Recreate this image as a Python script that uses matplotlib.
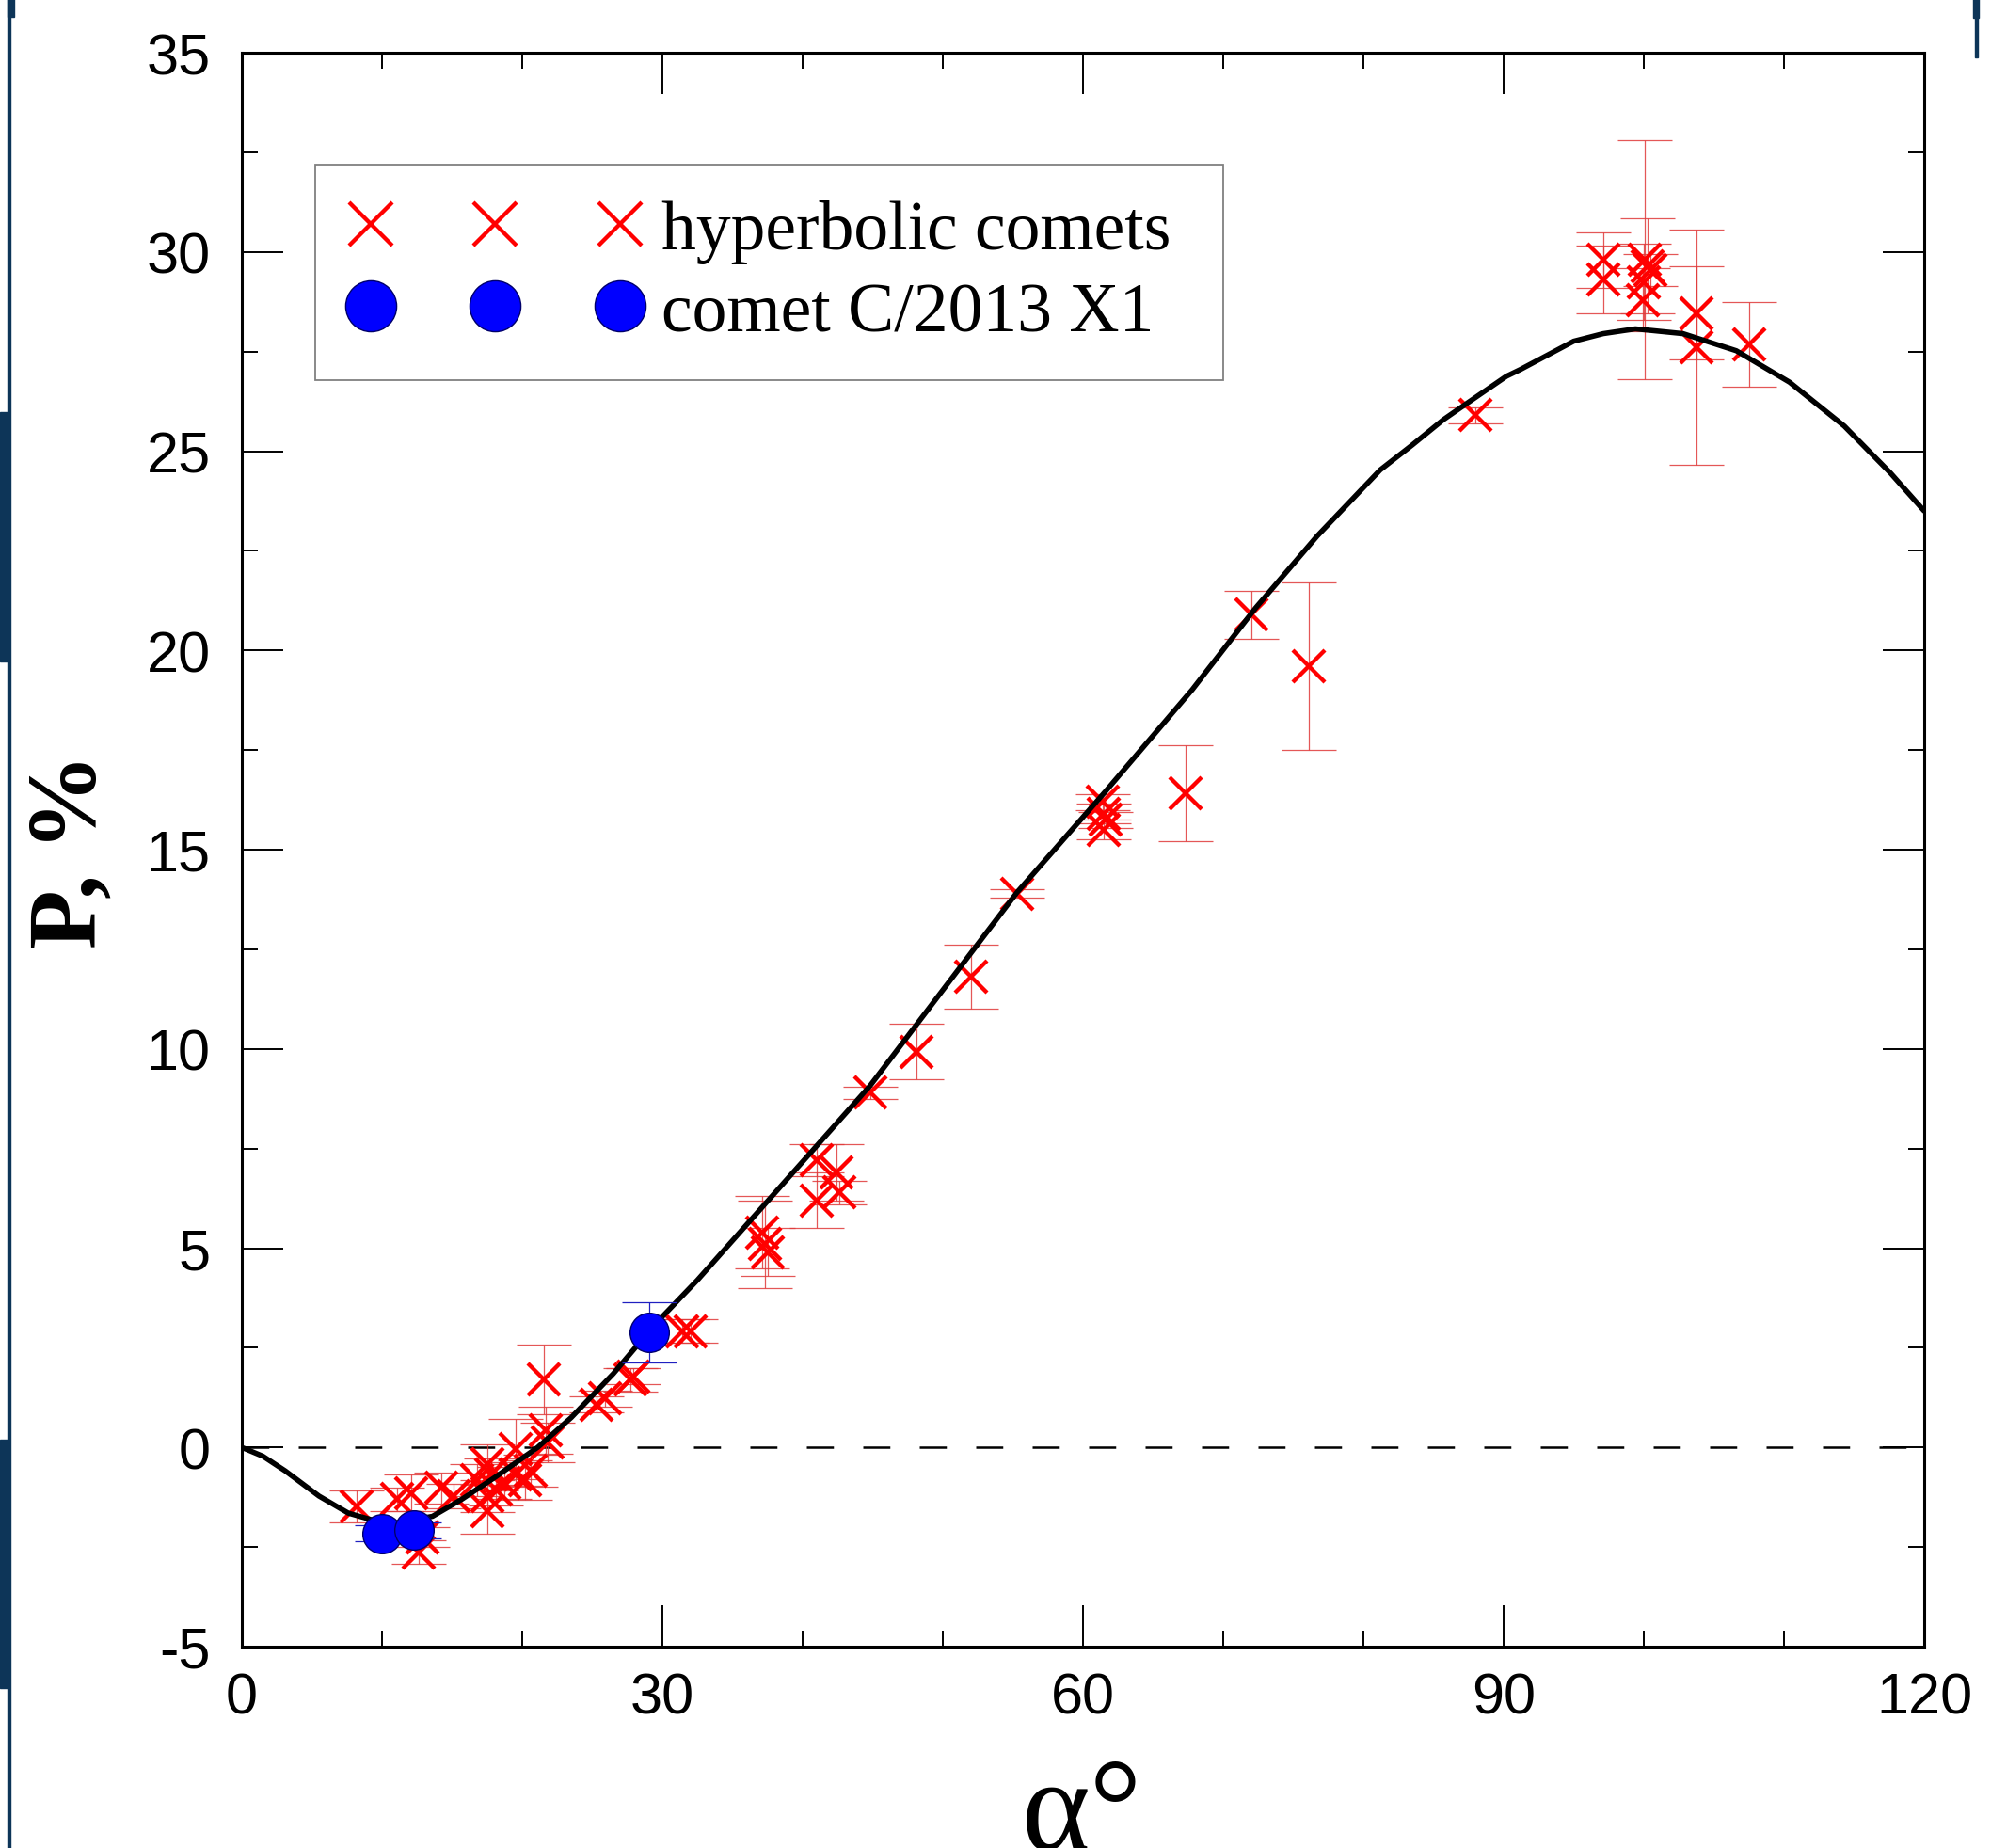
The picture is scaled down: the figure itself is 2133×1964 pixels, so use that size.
import numpy as np
import matplotlib
matplotlib.use('Agg')
import matplotlib.pyplot as plt
from matplotlib.patches import Rectangle
from matplotlib.ticker import MultipleLocator

plt.rcParams['axes.unicode_minus'] = False

# hyperbolic comets: phase angle, polarization, error
alpha_hyp = [8.2, 11.1, 12.1, 12.6, 12.9, 14.2, 15.1, 16.8, 17.5, 17.8, 17.5, 17.5,
             18.1, 18.7, 19.5, 19.5, 20.2, 20.6, 21.55, 21.7, 21.8, 25.3, 25.9,
             27.7, 27.9, 31.4, 32.0, 37.1, 37.3, 37.5, 41.0, 41.0, 42.4, 42.6,
             44.8, 48.1, 52.0, 55.3, 61.4, 61.5, 61.6, 61.5, 67.3, 72.0, 76.1,
             88.0, 97.1, 97.1, 100.1, 100.3, 100.5, 100.0, 99.9, 103.75, 103.75, 107.5]
p_hyp = [-1.49, -1.30, -1.14, -2.63, -2.25, -1.02, -1.22, -0.82, -0.43, -0.67, -1.22, -1.61,
         -1.06, -0.90, -0.04, -0.67, -0.82, -0.59, 1.70, 0.43, 0.12, 1.07, 1.23,
         1.70, 1.78, 2.92, 2.92, 5.4, 5.1, 4.9, 7.2, 6.2, 6.9, 6.4,
         8.9, 9.93, 11.82, 13.9, 16.2, 15.9, 15.75, 15.5, 16.42, 20.9, 19.6,
         25.9, 29.8, 29.3, 29.8, 29.65, 29.55, 29.25, 28.8, 28.47, 27.6, 27.68]
err_hyp = [0.4, 0.3, 0.45, 0.3, 0.25, 0.4, 0.3, 0.4, 0.5, 0.4, 0.4, 0.55,
           0.4, 0.4, 0.75, 0.3, 0.5, 0.4, 0.87, 0.6, 0.5, 0.2, 0.2,
           0.3, 0.2, 0.3, 0.3, 0.9, 1.1, 0.6, 0.4, 0.7, 0.7, 0.3,
           0.15, 0.7, 0.8, 0.1, 0.2, 0.25, 0.2, 0.25, 1.2, 0.6, 2.1,
           0.2, 0.7, 0.85, 3.0, 1.2, 0.4, 0.95, 0.8, 1.17, 2.95, 1.07]

# comet C/2013 X1
alpha_x1 = [10.0, 12.27, 29.05]
p_x1 = [-2.16, -2.08, 2.89]
err_x1 = [0.2, 0.2, 0.76]

# fitted phase curve
alpha_fit = [0, 1.5, 3.1, 5.5, 7.6, 9.4, 11.0, 13.6, 15.7, 18.1, 21.1, 23.5, 26.5, 29.5,
             32.5, 44.8, 55.3, 61.6, 67.8, 72.3, 76.7, 81.2, 83.5,
             85.7, 87.3, 90.2, 91.2, 95.0, 97.1, 99.4, 102.8, 106.6, 110.4, 114.3, 117.6, 120]
p_fit = [0, -0.22, -0.59, -1.22, -1.65, -1.83, -1.9, -1.73, -1.3, -0.74, 0.0, 0.75, 1.85, 3.1,
         4.2, 9.07, 13.93, 16.46, 19.02, 21.06, 22.87, 24.53, 25.16,
         25.79, 26.18, 26.88, 27.05, 27.76, 27.95, 28.07, 27.95, 27.52, 26.73, 25.63, 24.45, 23.5]

W, H = 2133, 1965
fig = plt.figure(figsize=(W / 100, H / 100), dpi=100)
ax = fig.add_axes([257 / W, 1 - 1751 / H, (2045 - 257) / W, (1751 - 57) / H])

ax.axhline(0, color='black', lw=1.8, ls=(0, (11.5, 12.5)), zorder=1)

ax.errorbar(alpha_hyp, p_hyp, yerr=err_hyp, fmt='none', ecolor='#e03a3a',
            elinewidth=0.9, capsize=21, capthick=0.9, alpha=0.85, zorder=2)
ax.plot(alpha_hyp, p_hyp, 'x', color='#ff0000', ms=25, mew=3.1, ls='none',
        zorder=3, label='hyperbolic comets ')
ax.plot(alpha_fit, p_fit, color='black', lw=4.0, zorder=4,
        solid_joinstyle='round', solid_capstyle='round')
ax.errorbar(alpha_x1, p_x1, yerr=err_x1, fmt='none', ecolor='#2020c0',
            elinewidth=0.9, capsize=21, capthick=0.9, zorder=5)
ax.plot(alpha_x1, p_x1, 'o', color='#0000ff', mec='#00006a', mew=1.0, ms=30,
        ls='none', zorder=6, label='comet C/2013 X1')

ax.set_xlim(0, 120)
ax.set_ylim(-5, 35)
ax.xaxis.set_major_locator(MultipleLocator(30))
ax.xaxis.set_minor_locator(MultipleLocator(10))
ax.yaxis.set_major_locator(MultipleLocator(5))
ax.yaxis.set_minor_locator(MultipleLocator(2.5))
ax.tick_params(which='both', direction='in', top=True, right=True, colors='black')
ax.tick_params(which='major', length=31.5, width=1.4)
ax.tick_params(which='minor', length=12, width=1.4)
ax.tick_params(axis='x', which='major', pad=19)
ax.tick_params(axis='y', which='major', pad=24)
for lab in ax.get_xticklabels() + ax.get_yticklabels():
    lab.set_fontfamily('Liberation Sans')
    lab.set_fontsize(44)
for s in ax.spines.values():
    s.set_linewidth(2.2)

leg = ax.legend(loc='upper left', bbox_to_anchor=(335 / W, 1 - 176 / H),
                bbox_transform=fig.transFigure, numpoints=3, markerscale=1.3,
                prop={'family': 'Liberation Serif', 'size': 53},
                handlelength=4.2, handletextpad=0.3, borderpad=0.5,
                labelspacing=0.27, fancybox=False, framealpha=1,
                edgecolor='#808080', borderaxespad=0)
leg.get_frame().set_linewidth(1.3)

fig.text(77 / W, 1 - 904 / H, 'P, %', rotation=90,
         ha='center', va='center', fontsize=74, fontweight='bold',
         family='Liberation Serif')
fig.text(1150 / W, -0.0005, 'α°', ha='center', va='baseline', fontsize=100,
         family='Liberation Serif')

# dark slide edges around the cropped picture
navy = '#0d3558'
fig.patches.append(Rectangle((8 / W, 0), 3 / W, 1, color=navy, transform=fig.transFigure))
fig.patches.append(Rectangle((0, 1 - 704 / H), 10 / W, 265 / H, color=navy, transform=fig.transFigure))
fig.patches.append(Rectangle((0, 1 - 1795 / H), 10 / W, 264 / H, color=navy, transform=fig.transFigure))
fig.patches.append(Rectangle((8 / W, 1 - 19 / H), 7 / W, 19 / H, color=navy, transform=fig.transFigure))
fig.patches.append(Rectangle((2099 / W, 1 - 62 / H), 3 / W, 62 / H, color=navy, transform=fig.transFigure))
fig.patches.append(Rectangle((2097 / W, 1 - 20 / H), 6 / W, 20 / H, color=navy, transform=fig.transFigure))

fig.savefig('out.png', dpi=100)
